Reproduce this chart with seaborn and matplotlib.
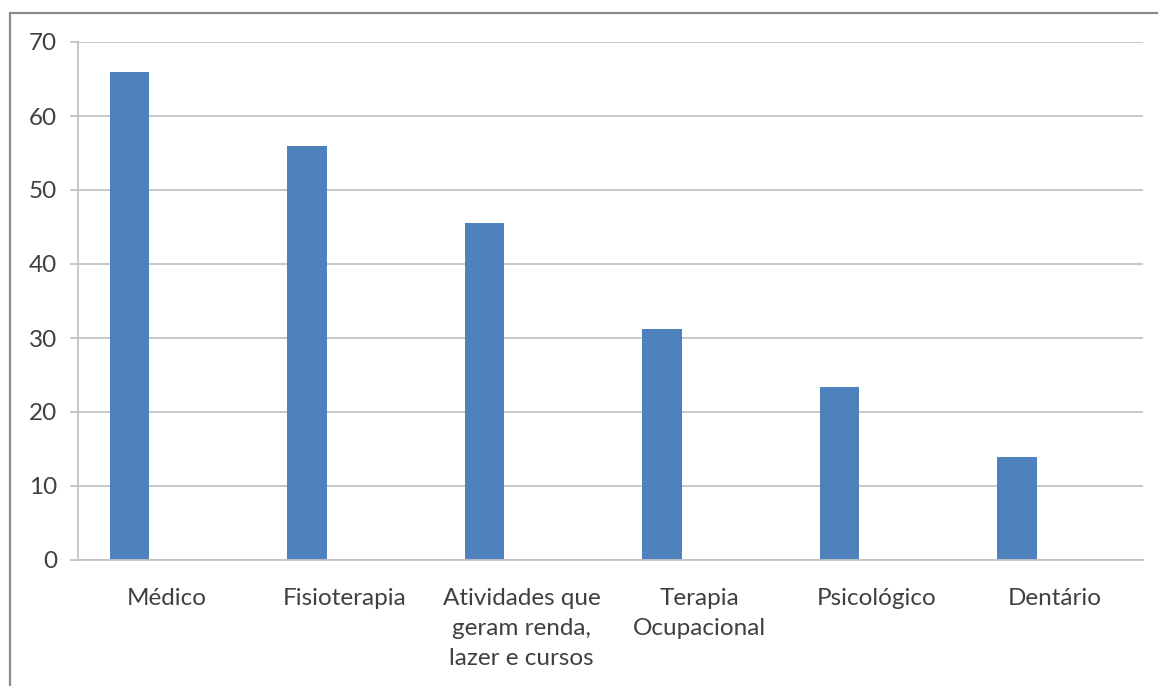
import numpy as np
import pandas as pd
import matplotlib.pyplot as plt
import seaborn as sns
from matplotlib.patches import Rectangle

categorias = ['Médico', 'Fisioterapia', 'Atividades que\ngeram renda,\nlazer e cursos',
              'Terapia\nOcupacional', 'Psicológico', 'Dentário']
valores = [66.0, 56.0, 45.5, 31.2, 23.4, 13.9]
y_ticks = [0, 10, 20, 30, 40, 50, 60, 70]

COR_BARRA = '#4f81bd'
COR_GRADE = '#c3c3c3'
COR_TEXTO = '#404040'

sns.set_style('white')
plt.rcParams['font.family'] = ['Lato', 'DejaVu Sans']

# segunda série vazia, como no gráfico original (barras deslocadas à esquerda)
df = pd.DataFrame({
    'categoria': categorias * 2,
    'valor': valores + [np.nan] * len(valores),
    'serie': ['A'] * len(categorias) + ['B'] * len(categorias),
})

fig = plt.figure(figsize=(11.58, 6.86), dpi=100)
ax = fig.add_axes([78 / 1158, 1 - 560 / 686, (1143 - 78) / 1158, (560 - 42) / 686])

sns.barplot(data=df, x='categoria', y='valor', hue='serie', hue_order=['A', 'B'],
            palette=[COR_BARRA, COR_BARRA], width=0.84, gap=0.476, dodge=True,
            legend=False, ax=ax, saturation=1, edgecolor='none')

ax.set_xlim(-0.5, len(categorias) - 0.5)
ax.set_ylim(0, 70)
ax.set_yticks(y_ticks)
ax.set_xlabel('')
ax.set_ylabel('')

ax.grid(axis='y', color=COR_GRADE, linewidth=1.3)
ax.set_axisbelow(True)

for s in ['top', 'right']:
    ax.spines[s].set_visible(False)
for s in ['left', 'bottom']:
    ax.spines[s].set_color(COR_GRADE)
    ax.spines[s].set_linewidth(1.3)

ax.set_xticks(np.arange(len(categorias) + 1) - 0.5, minor=True)
ax.tick_params(axis='x', which='major', length=0, pad=20, labelsize=17.5, labelcolor=COR_TEXTO)
ax.tick_params(axis='x', which='minor', length=6, width=1.3, color=COR_GRADE, direction='out')
ax.tick_params(axis='y', length=6, width=1.3, color=COR_GRADE, pad=9, labelsize=17.5,
               labelcolor=COR_TEXTO, left=True)
for lbl in ax.get_xticklabels():
    lbl.set_linespacing(1.55)
    lbl.set_verticalalignment('top')

# moldura externa do gráfico
fig.patches.append(Rectangle((10 / 1158, -0.1), 1.2, 1 - 13 / 686 + 0.1,
                             transform=fig.transFigure, fill=False,
                             edgecolor='#8a8a8a', linewidth=1.6))

fig.savefig('out.png', dpi=100)
